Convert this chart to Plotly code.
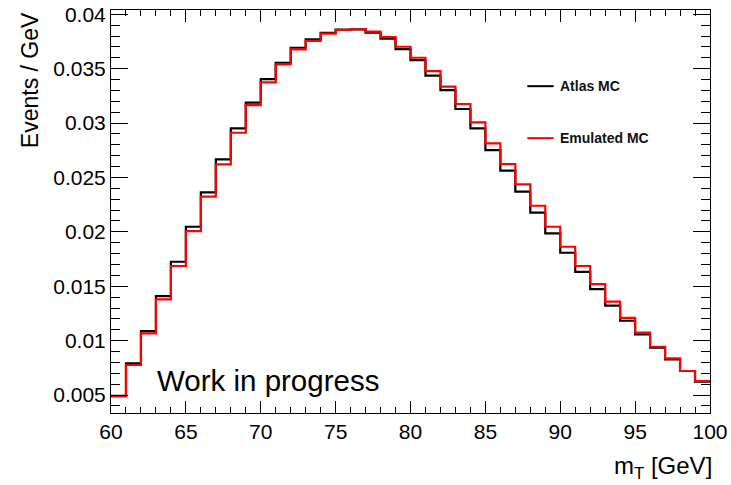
import plotly.graph_objects as go

# Transverse-mass histogram, 1 GeV bins from 60 to 100 GeV (normalised, Events / GeV)
bin_edges = list(range(60, 101))

atlas_mc = [
    0.00492, 0.00791, 0.01088, 0.01410, 0.01725, 0.02047, 0.02363, 0.02666,
    0.02951, 0.03187, 0.03404, 0.03554, 0.03692, 0.03769, 0.03830, 0.03858,
    0.03861, 0.03830, 0.03775, 0.03680, 0.03579, 0.03435, 0.03303, 0.03129,
    0.02951, 0.02752, 0.02562, 0.02369, 0.02176, 0.01986, 0.01808, 0.01633,
    0.01474, 0.01321, 0.01183, 0.01058, 0.00935, 0.00828, 0.00721, 0.00622,
]

emulated_mc = [
    0.00488, 0.00776, 0.01067, 0.01380, 0.01686, 0.02007, 0.02323, 0.02620,
    0.02911, 0.03165, 0.03374, 0.03539, 0.03677, 0.03756, 0.03822, 0.03855,
    0.03862, 0.03840, 0.03790, 0.03701, 0.03600, 0.03478, 0.03334, 0.03175,
    0.03006, 0.02813, 0.02623, 0.02437, 0.02240, 0.02047, 0.01863, 0.01686,
    0.01520, 0.01358, 0.01210, 0.01073, 0.00944, 0.00837, 0.00721, 0.00629,
]

series = [
    ("Atlas MC", atlas_mc, "#000000"),
    ("Emulated MC", emulated_mc, "#ff0000"),
]

FONT = "Liberation Sans, Arial, Helvetica, sans-serif"

fig = go.Figure()
for name, vals, color in series:
    # step outline: each bin value held across its bin, last value carried to the upper edge
    fig.add_trace(go.Scatter(
        x=bin_edges,
        y=vals + [vals[-1]],
        mode="lines",
        line=dict(color=color, width=2.2, shape="hv"),
        name=name,
        showlegend=False,
        hoverinfo="skip",
    ))

fig.update_layout(
    width=731,
    height=485,
    margin=dict(l=111, r=21, t=10, b=72),
    paper_bgcolor="white",
    plot_bgcolor="white",
    font=dict(family=FONT, color="black"),
)

fig.update_xaxes(
    range=[60, 100],
    tick0=60, dtick=5,
    ticks="inside", ticklen=12, tickwidth=1, tickcolor="black",
    minor=dict(ticks="inside", ticklen=6, dtick=1, tickcolor="black", showgrid=False),
    showline=True, linecolor="black", linewidth=1, mirror="allticks",
    showgrid=False, zeroline=False, automargin=False,
    tickfont=dict(size=21, family=FONT, color="black"),
)
fig.update_yaxes(
    range=[0.00335, 0.04039],
    tick0=0, dtick=0.005,
    ticks="inside", ticklen=17, tickwidth=1, tickcolor="black",
    minor=dict(ticks="inside", ticklen=9, dtick=0.001, tickcolor="black", showgrid=False),
    showline=True, linecolor="black", linewidth=1, mirror="allticks",
    showgrid=False, zeroline=False, automargin=False,
    tickfont=dict(size=21, family=FONT, color="black"),
)

# axis titles, placed at the axis ends
fig.add_annotation(
    text="Events / GeV", textangle=-90,
    xref="paper", yref="paper", x=-0.135, y=1.0,
    xanchor="center", yanchor="top", showarrow=False,
    font=dict(size=23, family=FONT, color="black"),
)
fig.add_annotation(
    text="m<sub>T</sub> [GeV]",
    xref="paper", yref="paper", x=1.006, y=-0.135,
    xanchor="right", yanchor="middle", showarrow=False,
    font=dict(size=24, family=FONT, color="black"),
)

# label inside the frame
fig.add_annotation(
    text="Work in progress",
    xref="paper", yref="paper", x=0.073, y=0.08,
    xanchor="left", yanchor="middle", showarrow=False,
    font=dict(size=29.5, family=FONT, color="black"),
)

# legend entries: short line sample followed by bold label
legend_y = [0.811, 0.682]
for (name, _, color), ly in zip(series, legend_y):
    fig.add_shape(
        type="line", xref="paper", yref="paper",
        x0=0.695, x1=0.739, y0=ly, y1=ly,
        line=dict(color=color, width=2),
    )
    fig.add_annotation(
        text="<b>" + name + "</b>",
        xref="paper", yref="paper", x=0.746, y=ly,
        xanchor="left", yanchor="middle", showarrow=False,
        font=dict(size=14, family=FONT, color="#111111"),
    )

fig.write_html("out.html")
